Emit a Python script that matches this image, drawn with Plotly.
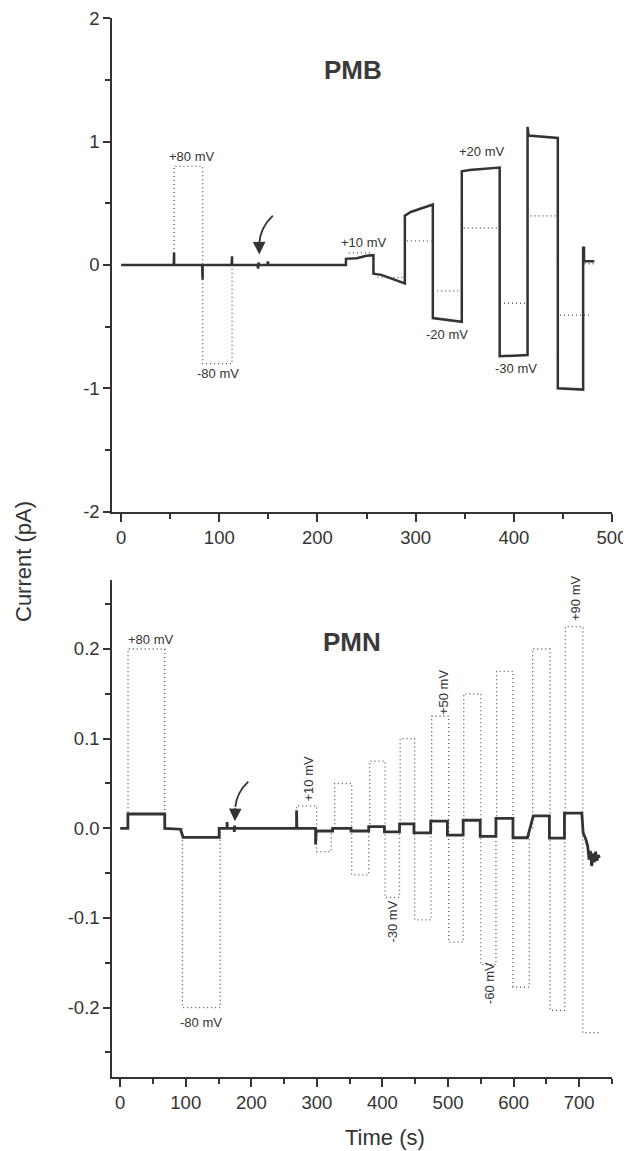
import plotly.graph_objects as go

# ---------------- data: PMB (top panel) ----------------
pmb_time = [0, 53.5, 54, 54, 54.5, 82.5, 83, 83, 83.5, 112.5, 113, 113, 113.5,
            139, 139.5, 140, 140.5, 149, 149.5, 150, 229, 229, 240, 250, 257, 257,
            265, 289, 289, 295, 317.5, 317.5, 347, 347, 355, 385.6, 385.6, 414,
            414, 415, 444.8, 444.8, 470.6, 470.6, 471.5, 471.5, 482]
pmb_current = [0, 0, 0.1, 0, 0, 0, -0.12, 0, 0, 0, 0.07, 0, 0,
               0, -0.03, 0.02, 0, 0, 0.03, 0, 0, 0.05, 0.055, 0.075, 0.08, -0.07,
               -0.08, -0.15, 0.4, 0.43, 0.49, -0.43, -0.46, 0.76, 0.77, 0.79, -0.74, -0.73,
               1.12, 1.05, 1.03, -1.0, -1.01, 0.14, 0.14, 0.03, 0.03]

# expected (ohmic) current, dotted
pmb_ref_time = [54, 54, 83, 83, 113, 113, None, 232, 254, None, 261, 288, None,
                291, 316, None, 322, 345, None, 349, 385, None, 386, 413, None,
                417, 444, None, 447, 478, None, 472, 482]
pmb_ref_current = [0, 0.8, 0.8, -0.8, -0.8, 0, None, 0.098, 0.098, None, -0.1, -0.1, None,
                   0.196, 0.196, None, -0.21, -0.21, None, 0.3, 0.3, None, -0.31, -0.31, None,
                   0.398, 0.398, None, -0.406, -0.406, None, 0.01, 0.01]

pmb_labels = ["+80 mV", "-80 mV", "+10 mV", "+20 mV", "-20 mV", "-30 mV"]
pmb_label_x = [72, 98.6, 247, 367, 332, 402]
pmb_label_y = [0.88, -0.88, 0.18, 0.92, -0.56, -0.84]

# arrow marking drug addition: tail, bend, head base, tip (time, current)
pmb_arrow_t = [154.5, 141.5, 140.6, 140.8]
pmb_arrow_i = [0.40, 0.30, 0.17, 0.085]

pmb_xticks = [0, 100, 200, 300, 400, 500]
pmb_yticks = [-2, -1, 0, 1, 2]
pmb_yticktext = ["-2", "-1", "0", "1", "2"]

# ---------------- data: PMN (bottom panel) ----------------
pmn_time = [0, 11.8, 11.8, 68, 68, 92, 96, 151, 151, 163, 163, 163.5, 174, 174, 174.5, 175,
            269, 269, 269.5, 298, 298, 299, 324, 324, 352, 352, 379, 379, 403, 403,
            426, 426, 448, 448, 473.5, 473.5, 499, 499, 523, 523, 549, 549, 573, 573,
            599, 599, 621, 630, 654.5, 654.5, 677.5, 677.5, 704, 706, 710, 713, 715,
            717, 719, 721, 723, 725, 727, 729, 731]
pmn_current = [0, 0, 0.016, 0.016, 0, -0.001, -0.01, -0.01, 0, 0, 0.007, 0, 0, -0.004, 0.003, 0,
               0, 0.02, 0, 0, -0.018, -0.003, -0.003, 0, 0, -0.003, -0.003, 0.002, 0.002, -0.004,
               -0.004, 0.005, 0.005, -0.005, -0.005, 0.008, 0.008, -0.0075, -0.0075, 0.009, 0.009, -0.009, -0.009, 0.011,
               0.011, -0.0105, -0.0105, 0.014, 0.014, -0.011, -0.011, 0.017, 0.017, -0.005, -0.012, -0.02, -0.035,
               -0.025, -0.042, -0.028, -0.038, -0.026, -0.036, -0.03, -0.033]

pmn_ref_time = [12, 12, 68, 68, None, 95, 95, 152.5, 152.5, None,
                269, 269, 299.5, 299.5, 322, 322, None,
                327, 327, 353, 353, 379, 379, None,
                380.5, 380.5, 404, 404, 426, 426, None,
                427, 427, 449, 449, 474, 474, None,
                475, 475, 501, 501, 523, 523, None,
                524, 524, 550, 550, 573, 573, None,
                574, 574, 599, 599, 624, 624, None,
                629, 629, 655.5, 655.5, 678, 678, None,
                679, 679, 705.5, 705.5, 731]
pmn_ref_current = [0, 0.2, 0.2, 0, None, 0, -0.2, -0.2, 0, None,
                   0, 0.025, 0.025, -0.026, -0.026, 0, None,
                   0, 0.05, 0.05, -0.052, -0.052, 0, None,
                   0, 0.075, 0.075, -0.077, -0.077, 0, None,
                   0, 0.1, 0.1, -0.102, -0.102, 0, None,
                   0, 0.125, 0.125, -0.127, -0.127, 0, None,
                   0, 0.15, 0.15, -0.152, -0.152, 0, None,
                   0, 0.175, 0.175, -0.177, -0.177, 0, None,
                   0, 0.2, 0.2, -0.203, -0.203, 0, None,
                   0, 0.225, 0.225, -0.228, -0.228]

pmn_labels = ["+80 mV", "-80 mV"]
pmn_label_x = [46.6, 124]
pmn_label_y = [0.211, -0.216]
pmn_vlabels = ["+10 mV", "-30 mV", "+50 mV", "-60 mV", "+90 mV"]
pmn_vlabel_x = [287.6, 416, 494, 563.5, 694.7]
pmn_vlabel_y = [0.0553, -0.104, 0.151, -0.173, 0.2566]

pmn_arrow_t = [195.3, 178.0, 175.6, 175.0]
pmn_arrow_i = [0.052, 0.040, 0.024, 0.008]

pmn_xticks = [0, 100, 200, 300, 400, 500, 600, 700]
pmn_yticks = [-0.2, -0.1, 0.0, 0.1, 0.2]
pmn_yticktext = ["-0.2", "-0.1", "0.0", "0.1", "0.2"]

# ---------------- styling ----------------
INK = "#333333"
FONT = "Liberation Sans, Arial, Helvetica, sans-serif"
W, H = 623, 1143          # page body has an 8px margin in the 631x1151 window
XDOM = [0.1674, 0.9695]
DOT = "1px,3px"

fig = go.Figure()
fig.add_trace(go.Scatter(x=pmb_ref_time, y=pmb_ref_current, mode="lines", xaxis="x", yaxis="y",
                         line=dict(color="#555555", width=1.3, dash=DOT), connectgaps=False))
fig.add_trace(go.Scatter(x=pmb_time, y=pmb_current, mode="lines", xaxis="x", yaxis="y",
                         line=dict(color=INK, width=2.5)))
fig.add_trace(go.Scatter(x=pmn_ref_time, y=pmn_ref_current, mode="lines", xaxis="x2", yaxis="y2",
                         line=dict(color="#555555", width=1.3, dash=DOT), connectgaps=False))
fig.add_trace(go.Scatter(x=pmn_time, y=pmn_current, mode="lines", xaxis="x2", yaxis="y2",
                         line=dict(color=INK, width=2.8)))

# curved arrow shafts
shapes = []
for xr, yr, at, ai in [("x", "y", pmb_arrow_t, pmb_arrow_i), ("x2", "y2", pmn_arrow_t, pmn_arrow_i)]:
    shapes.append(dict(type="path", xref=xr, yref=yr,
                       path=f"M {at[0]},{ai[0]} Q {at[1]},{ai[1]} {at[2]},{ai[2]}",
                       line=dict(color=INK, width=1.8)))

axis_common = dict(showline=True, linecolor=INK, linewidth=2, ticks="outside", tickwidth=2,
                   tickcolor=INK, showgrid=False, zeroline=False, mirror=False, automargin=False,
                   ticklabeloverflow="allow",
                   tickfont=dict(family=FONT, size=18.5, color=INK))

def minor(d):
    return dict(dtick=d, tick0=0, ticklen=5, tickwidth=1.5, ticks="outside", tickcolor=INK)

annotations = []
for t, x, y in zip(pmb_labels, pmb_label_x, pmb_label_y):
    annotations.append(dict(text=t, x=x, y=y, xref="x", yref="y", showarrow=False,
                            font=dict(family=FONT, size=13, color=INK)))
annotations.append(dict(text="<b>PMB</b>", x=236, y=1.58, xref="x", yref="y", showarrow=False,
                        font=dict(family=FONT, size=26, color="#3a3a3a")))
annotations.append(dict(text="", x=pmb_arrow_t[3], y=pmb_arrow_i[3], ax=pmb_arrow_t[2], ay=pmb_arrow_i[2],
                        xref="x", yref="y", axref="x", ayref="y", showarrow=True, arrowhead=2,
                        arrowsize=1.4, arrowwidth=1.8, arrowcolor=INK))
for t, x, y in zip(pmn_labels, pmn_label_x, pmn_label_y):
    annotations.append(dict(text=t, x=x, y=y, xref="x2", yref="y2", showarrow=False,
                            font=dict(family=FONT, size=13, color=INK)))
for t, x, y in zip(pmn_vlabels, pmn_vlabel_x, pmn_vlabel_y):
    annotations.append(dict(text=t, x=x, y=y, xref="x2", yref="y2", showarrow=False, textangle=-90,
                            font=dict(family=FONT, size=13, color=INK)))
annotations.append(dict(text="<b>PMN</b>", x=353, y=0.208, xref="x2", yref="y2", showarrow=False,
                        font=dict(family=FONT, size=26, color="#3a3a3a")))
annotations.append(dict(text="", x=pmn_arrow_t[3], y=pmn_arrow_i[3], ax=pmn_arrow_t[2], ay=pmn_arrow_i[2],
                        xref="x2", yref="y2", axref="x2", ayref="y2", showarrow=True, arrowhead=2,
                        arrowsize=1.4, arrowwidth=1.8, arrowcolor=INK))
annotations.append(dict(text="Current (pA)", x=16 / W, y=1 - 554 / H, xref="paper", yref="paper",
                        xanchor="center", yanchor="middle",
                        showarrow=False, textangle=-90, font=dict(family=FONT, size=22, color=INK)))
annotations.append(dict(text="Time (s)", x=377 / W, y=1 - 1129 / H, xref="paper", yref="paper",
                        xanchor="center", yanchor="middle",
                        showarrow=False, font=dict(family=FONT, size=22, color=INK)))

fig.update_layout(
    width=W, height=H, margin=dict(l=0, r=0, t=0, b=0, autoexpand=False),
    paper_bgcolor="white", plot_bgcolor="white", showlegend=False,
    xaxis=dict(domain=XDOM, range=[-9, 500], anchor="y", tickvals=pmb_xticks, ticklen=8,
               minor=minor(50), **axis_common),
    yaxis=dict(domain=[0.5593, 0.9910], range=[-2, 2], anchor="x", tickvals=pmb_yticks,
               ticktext=pmb_yticktext, ticklen=7, minor=minor(0.5), **axis_common),
    xaxis2=dict(domain=XDOM, range=[-12, 750], anchor="y2", tickvals=pmn_xticks, ticklen=8,
                minor=minor(50), **axis_common),
    yaxis2=dict(domain=[0.0650, 0.4996], range=[-0.277, 0.277], anchor="x2", tickvals=pmn_yticks,
                ticktext=pmn_yticktext, ticklen=7, minor=minor(0.05), **axis_common),
    shapes=shapes,
    annotations=annotations,
)

fig.write_html("out.html")
